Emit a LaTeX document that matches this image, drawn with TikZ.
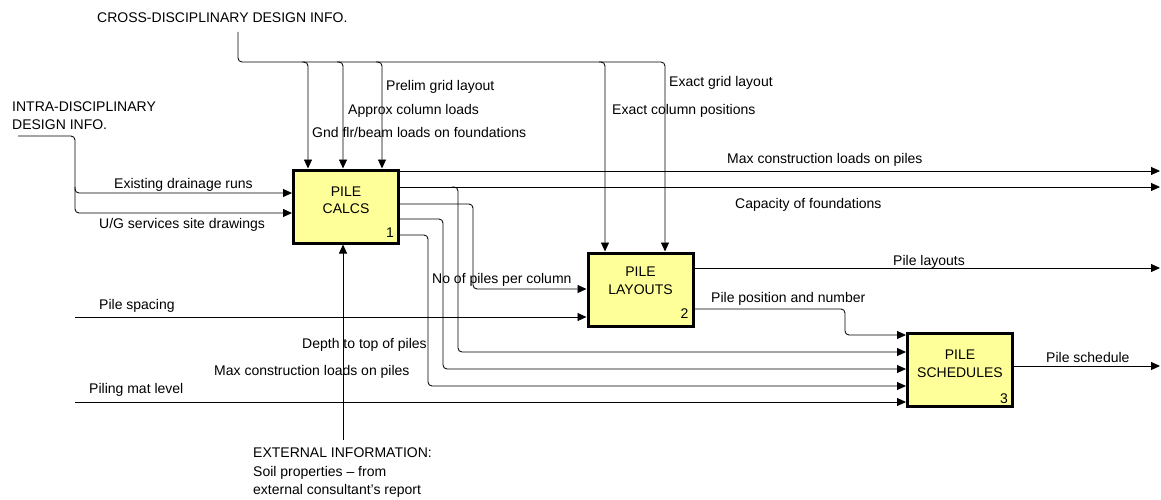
\documentclass[tikz,border=0pt]{standalone}
\usepackage{fontspec}
\setmainfont{Liberation Sans}
\usetikzlibrary{arrows.meta}
\definecolor{boxfill}{RGB}{255,255,153}
\begin{document}
\begin{tikzpicture}[x=1pt,y=-1pt,
  every node/.style={font=\fontsize{14}{17.5}\selectfont},
  wire/.style={line width=0.85pt, rounded corners=4pt},
  arr/.style={wire, -{Triangle[length=9pt,width=8pt]}},
  act/.style={draw, line width=3pt, fill=boxfill, inner sep=0pt, minimum width=105pt, minimum height=73pt},
  lbl/.style={anchor=base west, inner sep=0pt},
  btxt/.style={align=center, inner sep=0pt},
  num/.style={anchor=base east, inner sep=0pt},
  multi/.style={anchor=north west, align=left, inner sep=0pt},
]
\useasboundingbox (0,0) rectangle (1161,500);

% activity boxes
\node[act] (b1) at (346,206.5) {};
\node[act] (b2) at (640.5,289.5) {};
\node[act] (b3) at (960,369.5) {};
\node[btxt] (t1) at ([yshift=6pt]b1.center) {PILE\\CALCS};
\node[btxt] (t2) at ([yshift=8.5pt]b2.center) {PILE\\LAYOUTS};
\node[btxt] (t3) at ([yshift=6pt]b3.center) {PILE\\SCHEDULES};
\node[num] (n1) at ([xshift=-6pt,yshift=7pt]b1.south east) {1};
\node[num] (n2) at ([xshift=-6pt,yshift=9pt]b2.south east) {2};
\node[num] (n3) at ([xshift=-6pt,yshift=4pt]b3.south east) {3};

% cross-disciplinary controls
\node[lbl] (cross) at (97,23) {CROSS-DISCIPLINARY DESIGN INFO.};
\coordinate (cs) at (238,32);
\coordinate (cb) at (238,62);
\coordinate (klast) at (665,0);
\draw[arr] (cs) -- (cb) -- (cb -| klast) -- (b2.north -| klast);
\foreach \xx/\tgt in {308/b1, 343/b1, 382/b1, 605/b2}{
  \coordinate (kx) at (\xx,0);
  \draw[arr] ([xshift=-6pt]cb -| kx) -- (cb -| kx) -- (\tgt.north -| kx);
}

% intra-disciplinary inputs
\node[multi, font=\fontsize{14}{18}\selectfont] (intra) at (12,102) {INTRA-DISCIPLINARY\\DESIGN INFO.};
\coordinate (is) at (18,136);
\coordinate (ic) at (75,136);
\coordinate (ya) at (0,193);
\coordinate (yb) at (0,213);
\draw[arr] (is) -- (ic) -- (ic |- yb) -- (b1.west |- yb);
\draw[arr] ([yshift=6pt]ic |- ya) -- (ic |- ya) -- (b1.west |- ya);

% outputs of box 1
\coordinate (e1) at (1160,171);
\coordinate (e2) at (1160,187);
\draw[arr] (b1.east |- e1) -- (e1);
\draw[arr] (b1.east |- e2) -- (e2);
\coordinate (v458) at (458,352);
\draw[arr] ([xshift=-6pt]v458 |- e2) -- (v458 |- e2) -- (v458) -- (b3.west |- v458);
\coordinate (v473a) at (473,204);
\coordinate (v473b) at (473,289);
\draw[arr] (b1.east |- v473a) -- (v473a) -- (v473b) -- (b2.west |- v473b);
\coordinate (v443a) at (443,219);
\coordinate (v443b) at (443,369);
\draw[arr] (b1.east |- v443a) -- (v443a) -- (v443b) -- (b3.west |- v443b);
\coordinate (v428a) at (428,235);
\coordinate (v428b) at (428,386);
\draw[arr] (b1.east |- v428a) -- (v428a) -- (v428b) -- (b3.west |- v428b);

% other inputs
\coordinate (ps) at (75,317);
\draw[arr] (ps) -- (b2.west |- ps);
\coordinate (pm) at (75,402);
\draw[arr] (pm) -- (b3.west |- pm);

% external information
\node[multi, font=\fontsize{14}{18.5}\selectfont] (ext) at (253,448) {EXTERNAL INFORMATION:\\Soil properties – from\\external consultant’s report};
\coordinate (ex) at (343,440);
\draw[arr] (ex) -- (b1.south -| ex);

% outputs of box 2
\coordinate (e3) at (1160,268);
\draw[arr] (b2.east |- e3) -- (e3);
\coordinate (v845a) at (845,309);
\coordinate (v845b) at (845,335);
\draw[arr] (b2.east |- v845a) -- (v845a) -- (v845b) -- (b3.west |- v845b);

% output of box 3
\coordinate (e4) at (1160,366);
\draw[arr] (b3.east |- e4) -- (e4);

% labels
\node[lbl] (l1) at (386,91) {Prelim grid layout};
\node[lbl] (l2) at (348,115) {Approx column loads};
\node[lbl] (l3) at (312,138) {Gnd flr/beam loads on foundations};
\node[lbl] (l4) at (669,87) {Exact grid layout};
\node[lbl] (l5) at (612,115) {Exact column positions};
\node[lbl] (l6) at (114,188) {Existing drainage runs};
\node[lbl] (l7) at (99,228) {U/G services site drawings};
\node[lbl] (l8) at (727,163) {Max construction loads on piles};
\node[lbl] (l9) at (735,208) {Capacity of foundations};
\node[lbl] (l10) at (432,283) {No of piles per column};
\node[lbl] (l11) at (99,309) {Pile spacing};
\node[lbl] (l12) at (302,348) {Depth to top of piles};
\node[lbl] (l13) at (214,375) {Max construction loads on piles};
\node[lbl] (l14) at (89,393) {Piling mat level};
\node[lbl] (l15) at (893,265) {Pile layouts};
\node[lbl] (l16) at (711,302) {Pile position and number};
\node[lbl] (l17) at (1046,362) {Pile schedule};
\end{tikzpicture}
\end{document}
